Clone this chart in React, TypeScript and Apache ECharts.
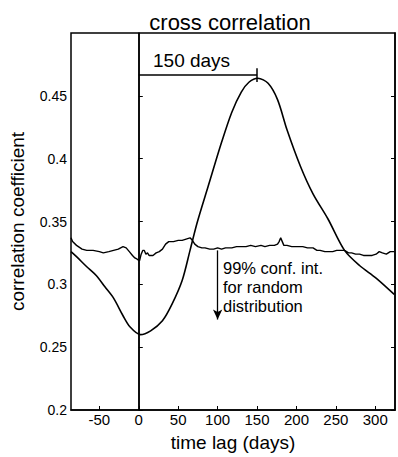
import React, { useEffect, useRef } from "react";
import * as echarts from "echarts";

// Cross-correlation curve (time lag in days, correlation coefficient)
const corrLag = [-86, -79, -66, -54, -43, -32, -20, -11, 2, 15, 30, 42, 55, 65, 74, 88, 105, 118, 130, 140, 151, 164, 176, 188, 205, 221, 240, 261, 280, 301, 324];
const corrValue = [0.326, 0.322, 0.314, 0.307, 0.298, 0.289, 0.275, 0.266, 0.26, 0.263, 0.271, 0.284, 0.303, 0.327, 0.349, 0.378, 0.413, 0.437, 0.453, 0.461, 0.464, 0.46, 0.447, 0.423, 0.394, 0.372, 0.352, 0.327, 0.315, 0.305, 0.292];

// 99% confidence interval for random distribution
const confLag = [-86, -84, -79, -72, -66, -58, -50, -45, -38, -32, -26, -20, -16, -12, -8, -5, -2, 0, 1, 3, 5, 7, 9, 11, 13, 15, 18, 22, 26, 30, 34, 38, 44, 50, 55, 60, 65, 68, 71, 75, 80, 84, 90, 95, 100, 105, 110, 118, 124, 130, 136, 142, 148, 155, 160, 166, 172, 176, 178, 180, 182, 184, 188, 194, 201, 208, 214, 221, 226, 230, 236, 241, 246, 251, 256, 261, 266, 270, 275, 280, 285, 290, 296, 301, 305, 309, 314, 319, 324];
const confValue = [0.337, 0.334, 0.331, 0.328, 0.327, 0.327, 0.326, 0.325, 0.326, 0.327, 0.328, 0.33, 0.329, 0.326, 0.323, 0.321, 0.32, 0.319, 0.319, 0.324, 0.327, 0.327, 0.324, 0.325, 0.323, 0.323, 0.323, 0.325, 0.326, 0.328, 0.332, 0.334, 0.334, 0.335, 0.335, 0.336, 0.337, 0.335, 0.332, 0.33, 0.329, 0.329, 0.328, 0.328, 0.329, 0.328, 0.329, 0.329, 0.33, 0.33, 0.33, 0.331, 0.33, 0.331, 0.33, 0.331, 0.331, 0.332, 0.334, 0.337, 0.334, 0.331, 0.331, 0.33, 0.33, 0.33, 0.329, 0.329, 0.327, 0.327, 0.326, 0.326, 0.326, 0.327, 0.327, 0.327, 0.325, 0.325, 0.324, 0.324, 0.323, 0.323, 0.323, 0.324, 0.326, 0.325, 0.324, 0.326, 0.326];

const xTicks = [-50, 0, 50, 100, 150, 200, 250, 300];
const yTicks = [0.2, 0.25, 0.3, 0.35, 0.4, 0.45];

// Annotations
const peakLag = 150;
const peakBarLevel = 0.467;
const peakTickRange = [0.472, 0.461];
const arrowLag = 100;
const arrowRange = [0.327, 0.272];

const FONT = "'Liberation Sans', Arial, sans-serif";

export default function App() {
  const ref = useRef<HTMLDivElement>(null);
  useEffect(() => {
    if (!ref.current) return;
    const chart = echarts.init(ref.current, undefined, { renderer: "svg" });
    const black = "#000";
    chart.setOption({
      animation: false,
      backgroundColor: "#fff",
      textStyle: { fontFamily: FONT, color: black },
      title: {
        text: "cross correlation",
        left: 225,
        top: 6,
        textAlign: "center",
        textStyle: { fontSize: 22, fontWeight: "normal", color: black, fontFamily: FONT },
      },
      grid: {
        left: 67,
        right: 3,
        top: 33,
        bottom: 44,
        show: true,
        borderColor: black,
        borderWidth: 1.5,
        backgroundColor: "transparent",
      },
      xAxis: [
        {
          type: "value",
          min: -86,
          max: 325,
          name: "time lag (days)",
          nameLocation: "middle",
          nameGap: 23,
          nameTextStyle: { fontSize: 19, color: black, fontFamily: FONT },
          axisLine: { show: true, lineStyle: { color: black, width: 1.5 } },
          axisTick: { show: true, inside: true, length: 4, customValues: xTicks, lineStyle: { color: black } },
          axisLabel: { customValues: xTicks, margin: 2, fontSize: 15, color: black, fontFamily: FONT },
          splitLine: { show: false },
        },
      ],
      yAxis: [
        {
          type: "value",
          min: 0.2,
          max: 0.5,
          name: "correlation coefficient",
          nameLocation: "middle",
          nameGap: 44,
          nameRotate: 90,
          nameTextStyle: { fontSize: 19, color: black, fontFamily: FONT },
          axisLine: { show: true, lineStyle: { color: black, width: 1.5 } },
          axisTick: { show: true, inside: true, length: 4, customValues: yTicks, lineStyle: { color: black } },
          axisLabel: {
            customValues: yTicks,
            margin: 4,
            fontSize: 14,
            color: black,
            fontFamily: FONT,
            formatter: (v: number) => String(parseFloat(v.toFixed(2))),
          },
          splitLine: { show: false },
        },
        {
          type: "value",
          min: 0.2,
          max: 0.5,
          position: "right",
          axisLine: { show: true, lineStyle: { color: black, width: 1.5 } },
          axisTick: { show: true, inside: true, length: 4, customValues: yTicks, lineStyle: { color: black } },
          axisLabel: { show: false },
          splitLine: { show: false },
        },
      ],
      series: [
        {
          type: "line",
          data: corrLag.map((x, i) => [x, corrValue[i]]),
          smooth: 0.3,
          showSymbol: false,
          lineStyle: { color: black, width: 1.6 },
          markLine: {
            silent: true,
            symbol: ["none", "none"],
            label: { show: false },
            lineStyle: { color: black, width: 1.5, type: "solid" },
            data: [
              { xAxis: 0 },
              [{ coord: [0, peakBarLevel] }, { coord: [peakLag, peakBarLevel] }],
              [{ coord: [peakLag, peakTickRange[0]] }, { coord: [peakLag, peakTickRange[1]] }],
            ],
          },
        },
        {
          type: "line",
          data: confLag.map((x, i) => [x, confValue[i]]),
          showSymbol: false,
          lineStyle: { color: black, width: 1.4 },
          markLine: {
            silent: true,
            symbol: ["none", "arrow"],
            symbolSize: [7, 10],
            label: { show: false },
            lineStyle: { color: black, width: 1.3, type: "solid" },
            data: [[{ coord: [arrowLag, arrowRange[0]] }, { coord: [arrowLag, arrowRange[1]] }]],
          },
        },
      ],
      graphic: [
        {
          type: "text",
          left: 153,
          top: 51,
          style: { text: "150 days", fontSize: 19, fill: black, fontFamily: FONT },
        },
        {
          type: "text",
          left: 223,
          top: 258,
          style: {
            text: "99% conf. int.\nfor random\ndistribution",
            fontSize: 16.5,
            lineHeight: 19,
            fill: black,
            fontFamily: FONT,
          },
        },
      ],
    });
    return () => chart.dispose();
  }, []);
  return (
    <div
      ref={ref}
      style={{ position: "absolute", left: 0, top: 0, width: 398, height: 457 }}
    />
  );
}
